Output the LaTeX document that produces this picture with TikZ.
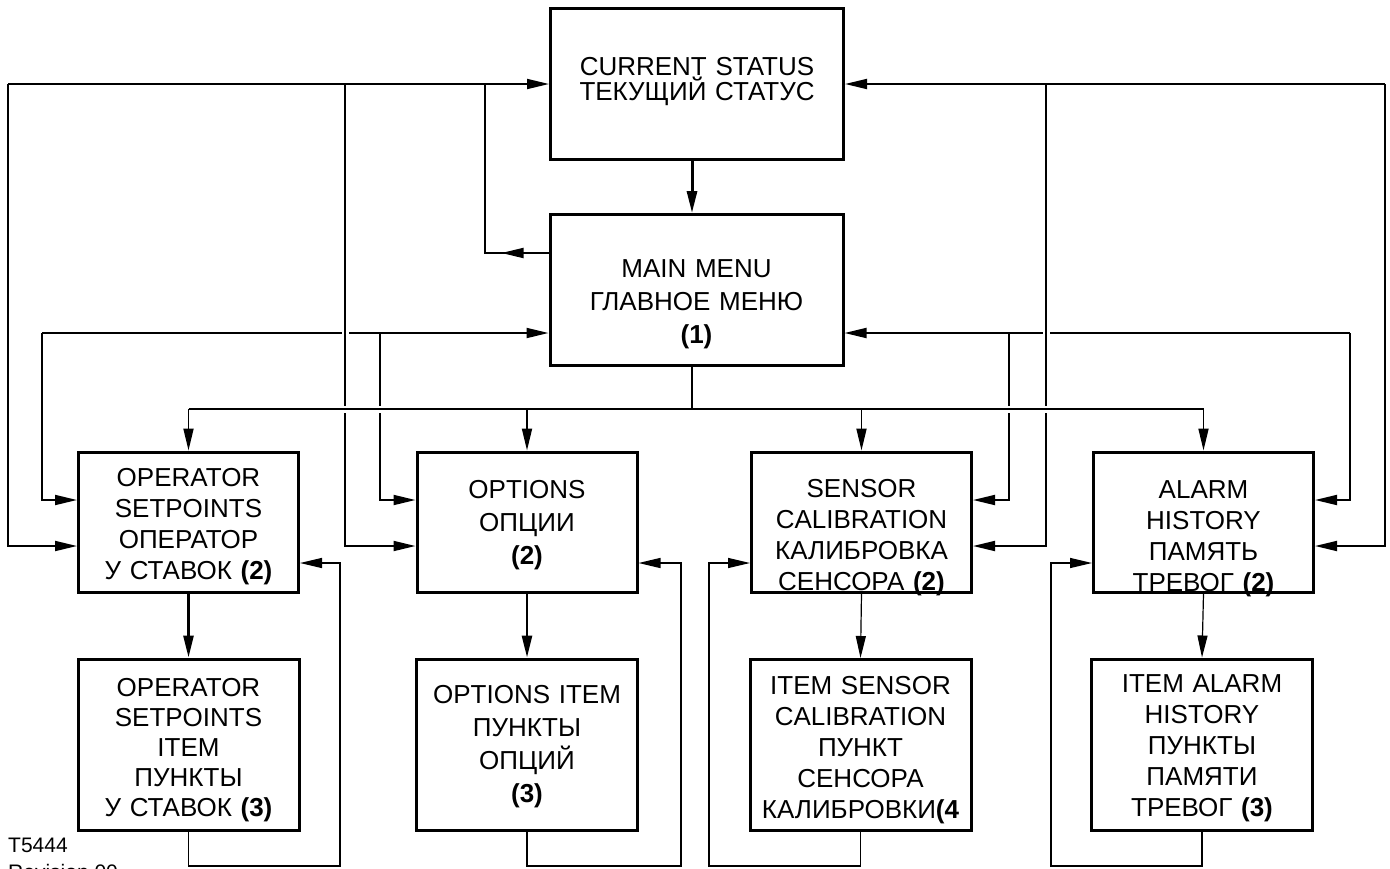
\documentclass[tikz,border=0pt]{standalone}
\usepackage{fontspec}
\setmainfont{Liberation Sans}
\usetikzlibrary{arrows.meta}
\newcommand{\sinktext}[2]{\par\kern#1\relax#2\par\kern-#1\relax}

\begin{document}
\begin{tikzpicture}[x=1pt, y=-1pt,
    menubox/.style={draw, line width=3pt, align=center, inner sep=0pt, text width=214pt,
      font=\fontsize{26}{31}\selectfont},
    toprow/.style={menubox, minimum width=293pt, minimum height=151pt, text width=286pt},
    midrow/.style={menubox, minimum width=220pt, minimum height=140pt},
    lowrow/.style={menubox, minimum width=221pt, minimum height=171pt},
    wire/.style={line width=1.8pt},
    feed/.style={wire, -{Triangle[length=22pt, width=10pt]}},
    gap/.style={preaction={draw=white, line width=7pt, -, shorten >=30pt}}]
    \useasboundingbox (0,0) rectangle (1390,868);

    % screens
    \node[toprow, font=\fontsize{26}{25}\selectfont] (status) at (697,84)
      {\sinktext{-6pt}{CURRENT STATUS\\ТЕКУЩИЙ СТАТУС}};
    \node[toprow, font=\fontsize{26}{33}\selectfont] (mainmenu) at (696.5,290)
      {\sinktext{7pt}{MAIN MENU\\ГЛАВНОЕ МЕНЮ\\\textbf{(1)}}};
    \node[midrow] (opset) at (188.5,522)
      {\sinktext{-2pt}{OPERATOR\\SETPOINTS\\ОПЕРАТОР\\У СТАВОК \textbf{(2)}}};
    \node[midrow, font=\fontsize{26}{33}\selectfont] (opts) at (527,522)
      {\sinktext{-4pt}{OPTIONS\\ОПЦИИ\\\textbf{(2)}}};
    \node[midrow] (sensor) at (861.5,522)
      {\sinktext{9pt}{SENSOR\\CALIBRATION\\КАЛИБРОВКА\\СЕНСОРА \textbf{(2)}}};
    \node[midrow] (alarm) at (1203.5,522)
      {\sinktext{10pt}{ALARM\\HISTORY\\ПАМЯТЬ\\ТРЕВОГ \textbf{(2)}}};
    \node[lowrow, font=\fontsize{26}{30}\selectfont] (opitem) at (188.5,744.5)
      {\sinktext{0pt}{OPERATOR\\SETPOINTS\\ITEM\\ПУНКТЫ\\У СТАВОК \textbf{(3)}}};
    \node[lowrow, font=\fontsize{26}{33}\selectfont] (optitem) at (527,744.5)
      {\sinktext{-5pt}{OPTIONS ITEM\\ПУНКТЫ\\ОПЦИЙ\\\textbf{(3)}}};
    \node[lowrow] (senitem) at (860.5,745)
      {\sinktext{-1.5pt}{ITEM SENSOR\\CALIBRATION\\ПУНКТ\\СЕНСОРА\\КАЛИБРОВКИ\textbf{(4}}};
    \node[lowrow] (alitem) at (1202,744.5)
      {\sinktext{-3pt}{ITEM ALARM\\HISTORY\\ПУНКТЫ\\ПАМЯТИ\\ТРЕВОГ \textbf{(3)}}};

    % back to main menu
    \coordinate (railF) at (42,333);
    \coordinate (railG) at (380,333);
    \coordinate (railH) at (1009,333);
    \coordinate (railI) at (1350,333);
    \draw[feed] (railF) -- ([yshift=-43pt]mainmenu.west);
    \draw[feed] (railF) |- ([yshift=22pt]opset.west);
    \draw[feed] (railG) |- ([yshift=22pt]opts.west);
    \draw[feed] (railI) -- ([yshift=-43pt]mainmenu.east);
    \draw[feed] (railH) |- ([yshift=22pt]sensor.east);
    \draw[feed] (railI) |- ([yshift=22pt]alarm.east);

    % back to current status
    \coordinate (railA) at (8,84);
    \coordinate (railB) at (345,84);
    \coordinate (railC) at (485,84);
    \coordinate (railD) at (1046,84);
    \coordinate (railE) at (1385,84);
    \draw[feed] (railA) |- ([yshift=-24pt]opset.west);
    \draw[feed, gap] (railB) |- ([yshift=-24pt]opts.west);
    \draw[feed, gap] (railD) |- ([yshift=-24pt]sensor.east);
    \draw[feed] (railE) |- ([yshift=-24pt]alarm.east);
    \draw[wire] ([yshift=37pt]mainmenu.west) -| (railC);
    \draw[feed] ([yshift=37pt]mainmenu.west) -- ++(-47,0);
    \draw[feed] (railA) -- (status.west);
    \draw[feed] (railE) -- (status.east);

    % down the menu tree
    \coordinate (spine) at (692,409);
    \draw[feed, line width=3pt] (status.south -| spine) -- (mainmenu.north -| spine);
    \draw[wire, gap] (opset.north |- spine) -- (alarm.north |- spine);
    \draw[wire] (mainmenu.south -| spine) -- (spine);
    \foreach \scr in {opset,opts,sensor,alarm}
      \draw[feed] (\scr.north |- spine) -- (\scr.north);
    \foreach \up/\down/\w in {opset/opitem/2.6pt, opts/optitem/2.6pt, sensor/senitem/1.2pt, alarm/alitem/1.2pt}
      \draw[feed, line width=\w] (\up.south) -- (\down.north);

    % item loops
    \coordinate (loopA) at (340,866);
    \coordinate (loopB) at (681,866);
    \coordinate (loopC) at (709,866);
    \coordinate (loopD) at (1051,866);
    \draw[feed, line width=1.4pt] (opitem.south) |- (loopA) |- ([yshift=-41pt]opset.east);
    \draw[feed, line width=1.4pt] (optitem.south) |- (loopB) |- ([yshift=-41pt]opts.east);
    \draw[feed, line width=1.4pt] (senitem.south) |- (loopC) |- ([yshift=-41pt]sensor.west);
    \draw[feed, line width=1.4pt] (alitem.south) |- (loopD) |- ([yshift=-41pt]alarm.west);

    \node[anchor=north west, inner sep=0pt, align=left, font=\fontsize{21}{27}\selectfont]
      (drawno) at (8,838) {T5444\\Revision 00};
\end{tikzpicture}
\end{document}
